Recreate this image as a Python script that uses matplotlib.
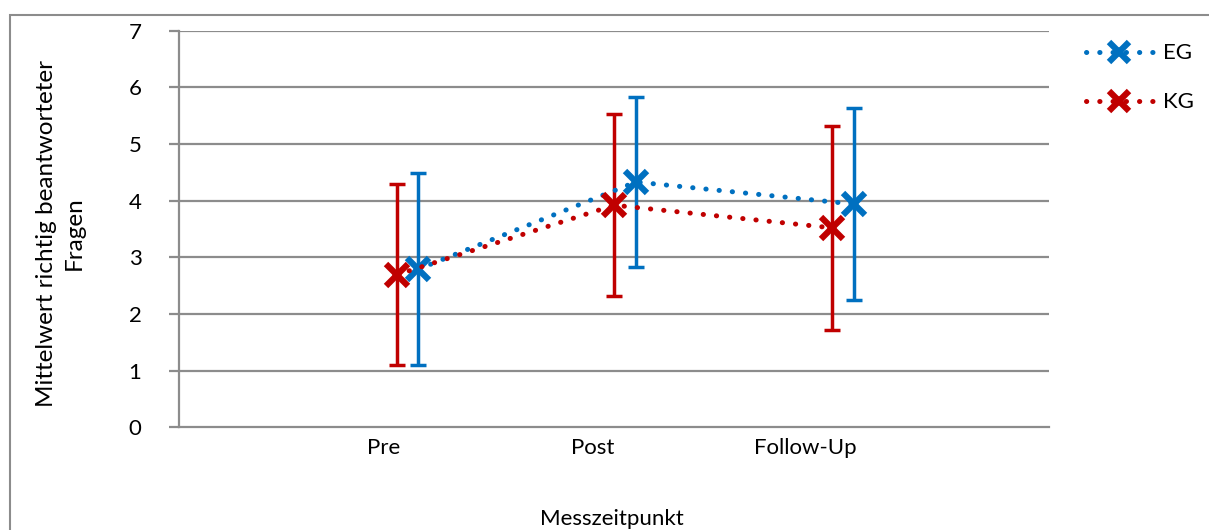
import matplotlib.pyplot as plt
from matplotlib.patches import Rectangle

plt.rcParams['font.family'] = ['Lato', 'DejaVu Sans']

# data
zeitpunkte = ["Pre", "Post", "Follow-Up"]
eg_mean = [2.79, 4.33, 3.94]
eg_sd = [1.70, 1.50, 1.70]
kg_mean = [2.69, 3.92, 3.52]
kg_sd = [1.60, 1.61, 1.80]

blue = "#0070C0"
red = "#C00000"
grid_grey = "#8C8C8C"

x_kg = [1, 2, 3]
x_eg = [x + 0.1 for x in x_kg]
label_pos = [0.94, 1.90, 2.88]  # labels sit a bit left of the points

fig = plt.figure(figsize=(12.09, 5.30), dpi=100)
ax = fig.add_axes([0.148, 0.194, 0.720, 0.748])

# chart border (cut off on right and bottom like the original)
fig.patches.append(Rectangle((10 / 1209, -0.1), 1.2, 1 - 14.5 / 530 + 0.1,
                             transform=fig.transFigure, fill=False,
                             edgecolor=grid_grey, linewidth=1.5))

for ys in range(1, 8):
    ax.axhline(ys, color=grid_grey, linewidth=1.6, zorder=0)

dots = (0, (0.05, 2.6))

def draw(xs, means, sds, col, name):
    ax.errorbar(xs, means, yerr=sds, fmt="none", ecolor=col, elinewidth=2.5,
                capsize=6, capthick=2.5, zorder=2)
    ax.plot(xs, means, linestyle=dots, dash_capstyle="round",
            color=col, linewidth=3.6, marker="x", markersize=16,
            markeredgewidth=4.5, label=name, zorder=3)

draw(x_eg, eg_mean, eg_sd, blue, "EG")
draw(x_kg, kg_mean, kg_sd, red, "KG")

ax.set_xlim(0, 4.0)
ax.set_ylim(0, 7)
ax.set_yticks(range(0, 8))
ax.set_xticks(label_pos)
ax.set_xticklabels(zeitpunkte)
ax.tick_params(axis="y", length=7, width=1.6, color=grid_grey, labelsize=16,
               pad=20)
ax.tick_params(axis="x", length=0, labelsize=16, pad=8)

for s in ["top", "right"]:
    ax.spines[s].set_visible(False)
ax.spines["left"].set_color(grid_grey)
ax.spines["left"].set_linewidth(1.6)
ax.spines["bottom"].set_color(grid_grey)
ax.spines["bottom"].set_linewidth(1.6)

fig.text(0.506, 0.020, "Messzeitpunkt", ha="center", va="center", fontsize=16)
fig.text(0.050, 0.560, "Mittelwert richtig beantworteter\nFragen", ha="center",
         va="center", rotation=90, fontsize=17.5, linespacing=1.35)

ax.legend(loc="upper left", bbox_to_anchor=(1.042, 0.968), frameon=False,
          borderaxespad=0, borderpad=0,
          fontsize=16, handlelength=3.0, handletextpad=0.45, labelspacing=1.3,
          markerscale=0.9)

fig.savefig("out.png", dpi=100)
